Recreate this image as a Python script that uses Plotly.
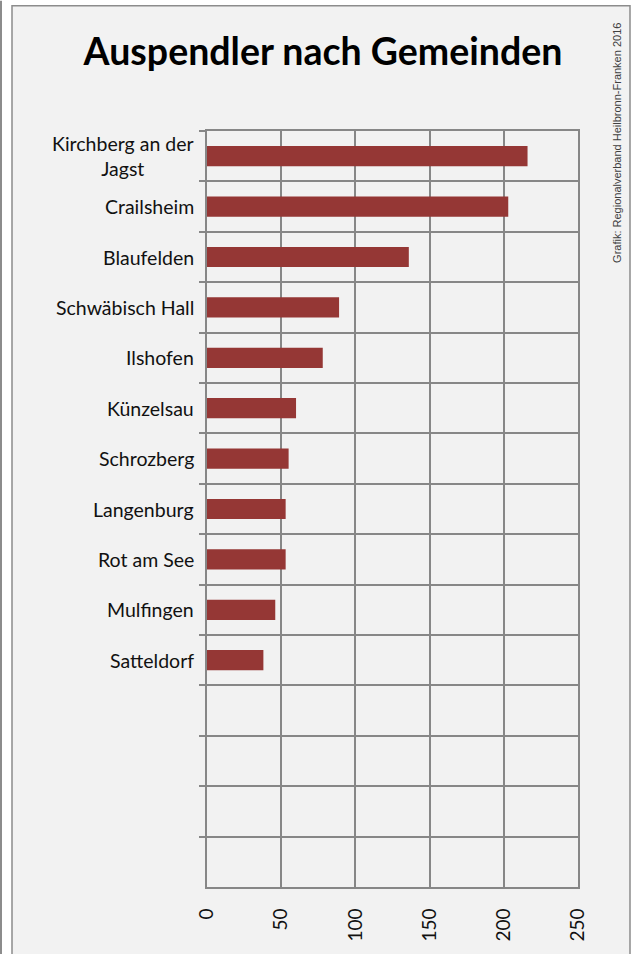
import plotly.graph_objects as go

# ---- data ----
categories = ["Kirchberg an der<br>Jagst", "Crailsheim", "Blaufelden", "Schwäbisch Hall",
              "Ilshofen", "Künzelsau", "Schrozberg", "Langenburg", "Rot am See",
              "Mulfingen", "Satteldorf"]
values = [216, 203, 136, 89, 78, 60, 55, 53, 53, 46, 38]
empty_rows = [" ", "  ", "   ", "    "]
x_ticks = [0, 50, 100, 150, 200, 250]
title_text = "Auspendler nach Gemeinden"
source_text = "Grafik: Regionalverband Heilbronn-Franken 2016"

# ---- layout constants ----
W, H = 636, 954
L, R, T, B = 207, 58, 131, 62
PW, PH = W - L - R, H - T - B
BAR = "#953735"
GRID = "#878787"
FONT = "Lato"


def px_x(p):
    return (p - L) / PW


def px_y(p):
    return (H - B - p) / PH


all_rows = categories + empty_rows
all_vals = values + [None] * len(empty_rows)

fig = go.Figure(go.Bar(
    x=all_vals, y=all_rows, orientation="h",
    marker=dict(color=BAR, line=dict(width=0)),
    width=0.4, hoverinfo="x+y",
))

annotations = []
for c in categories:
    annotations.append(dict(
        text=c, xref="paper", yref="y", x=0, y=c, xanchor="right", yanchor="middle",
        xshift=-11, showarrow=False, align="center",
        font=dict(family=FONT, size=19.5, color="#111111"),
    ))
annotations.append(dict(
    text=source_text, xref="paper", yref="paper", x=px_x(617), y=px_y(143),
    xanchor="center", yanchor="middle", textangle=-90, showarrow=False,
    font=dict(family="Liberation Sans", size=11, color="#404040"),
))

shapes = [
    dict(type="rect", xref="paper", yref="paper", layer="below",
         x0=px_x(12), x1=px_x(630), y0=px_y(965), y1=px_y(5),
         fillcolor="#f2f2f2", line=dict(color="#8c8c8c", width=1.5)),
    dict(type="line", xref="paper", yref="paper", layer="below",
         x0=px_x(1), x1=px_x(1), y0=px_y(965), y1=px_y(0),
         line=dict(color="#8c8c8c", width=2)),
]

fig.update_layout(
    width=W, height=H,
    margin=dict(l=L, r=R, t=T, b=B, pad=0),
    paper_bgcolor="white", plot_bgcolor="white",
    showlegend=False,
    title=dict(text="<b>" + title_text + "</b>", x=323 / W, xanchor="center", xref="container",
               y=1 - 52 / H, yanchor="middle", yref="container",
               font=dict(family=FONT, size=37.5, color="black")),
    xaxis=dict(range=[x_ticks[0], x_ticks[-1]], tickvals=x_ticks, tickangle=-90,
               showgrid=True, gridcolor=GRID, gridwidth=1.8, zeroline=False,
               showline=True, mirror=True, linecolor=GRID, linewidth=1.8,
               ticks="", ticklabelstandoff=12,
               tickfont=dict(family=FONT, size=19, color="#111111"), fixedrange=True),
    yaxis=dict(type="category", categoryorder="array", categoryarray=all_rows,
               range=[len(all_rows) - 0.5, -0.5], tickson="boundaries",
               ticks="outside", ticklen=6, tickcolor=GRID, tickwidth=1.8,
               showgrid=True, gridcolor=GRID, gridwidth=1.8, showticklabels=False,
               showline=True, mirror=True, linecolor=GRID, linewidth=1.8,
               zeroline=False, fixedrange=True),
    annotations=annotations,
    shapes=shapes,
)

fig.write_html("out.html", config={"displayModeBar": False},
               post_script="document.body.style.margin='0';")
